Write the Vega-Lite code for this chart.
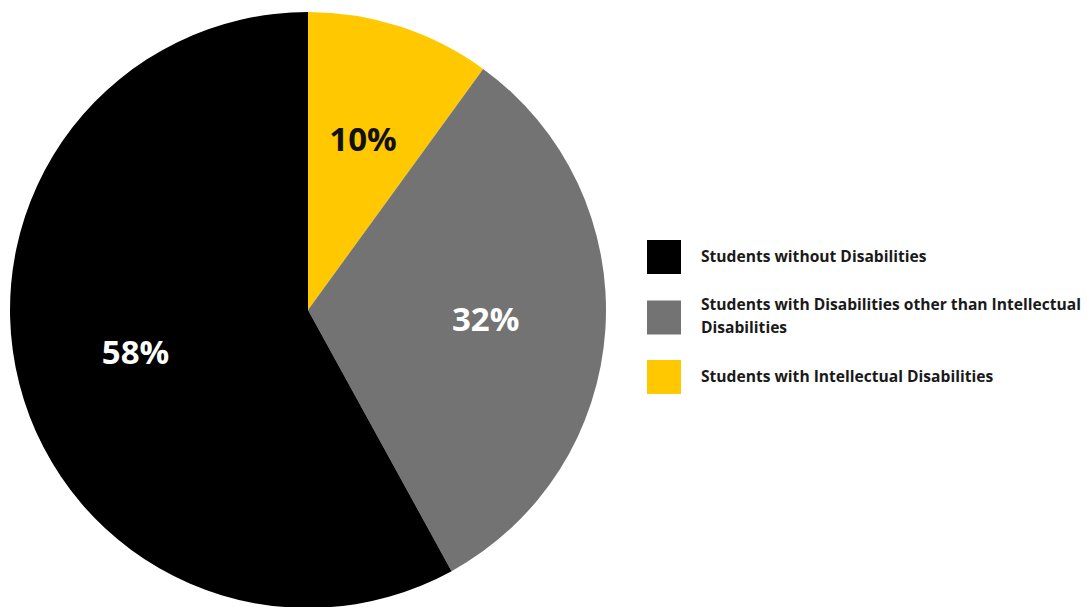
{
  "$schema": "https://vega.github.io/schema/vega-lite/v6.json",
  "width": 616,
  "height": 620,
  "padding": 0,
  "background": "white",
  "config": {"view": {"stroke": null}},
  "data": {
    "values": [
      {"group": "Students with Intellectual Disabilities", "share": 10, "label": "10%", "order": 1},
      {"group": "Students with Disabilities other than Intellectual Disabilities", "share": 32, "label": "32%", "order": 2},
      {"group": "Students without Disabilities", "share": 58, "label": "58%", "order": 3}
    ]
  },
  "encoding": {
    "theta": {"field": "share", "type": "quantitative", "stack": true},
    "order": {"field": "order", "type": "quantitative"}
  },
  "layer": [
    {
      "mark": {"type": "arc", "outerRadius": 298},
      "encoding": {
        "color": {
          "field": "group",
          "type": "nominal",
          "scale": {
            "domain": ["Students without Disabilities", "Students with Disabilities other than Intellectual Disabilities", "Students with Intellectual Disabilities"],
            "range": ["#000000", "#737373", "#FFC800"]
          },
          "legend": {
            "title": null,
            "orient": "none",
            "legendX": 647,
            "legendY": 240,
            "symbolType": "square",
            "symbolSize": 1156,
            "symbolStrokeWidth": 0,
            "symbolOpacity": 1,
            "labelFont": "Open Sans",
            "labelFontWeight": "bold",
            "labelFontSize": 15.6,
            "labelColor": "#1a1a1a",
            "labelOffset": 20,
            "labelLimit": 0,
            "rowPadding": 23.5,
            "labelExpr": "datum.label == 'Students with Disabilities other than Intellectual Disabilities' ? ['Students with Disabilities other than Intellectual', 'Disabilities'] : datum.label",
            "encode": {"labels": {"update": {
              "lineHeight": {"value": 23},
              "dy": {"signal": "datum.value == 'Students with Disabilities other than Intellectual Disabilities' ? -13 : 0"}
            }}}
          }
        }
      }
    },
    {
      "mark": {"type": "text", "radius": 178, "font": "Open Sans", "fontWeight": "bold", "fontSize": 33, "baseline": "middle", "align": "center"},
      "encoding": {
        "text": {"field": "label", "type": "nominal"},
        "color": {
          "condition": {"test": "datum.order == 1", "value": "#111111"},
          "value": "#ffffff"
        }
      }
    }
  ]
}
